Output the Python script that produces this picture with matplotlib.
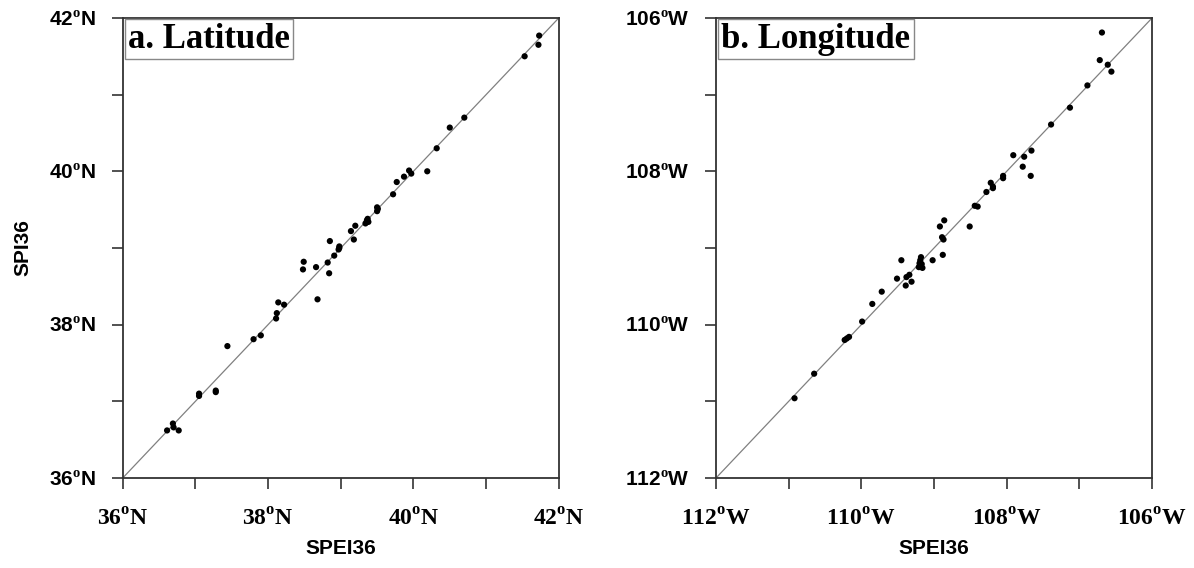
import matplotlib
matplotlib.use("Agg")
import matplotlib.pyplot as plt

plt.rcParams["mathtext.fontset"] = "custom"
plt.rcParams["mathtext.rm"] = "Liberation Serif:bold"
plt.rcParams["mathtext.bf"] = "Liberation Serif:bold"

# latitude panel (SPEI36 vs SPI36, degrees N)
lat_spei = [41.73, 41.72, 41.53, 40.70, 40.50, 40.32, 40.19, 39.94, 39.97, 39.87,
            39.77, 39.72, 39.50, 39.50, 39.51, 39.37, 39.38, 39.34, 39.36, 39.20,
            39.14, 39.18, 38.85, 38.98, 38.98, 38.97, 38.91, 38.82, 38.84, 38.66,
            38.49, 38.48, 38.68, 38.14, 38.22, 38.12, 38.11, 37.90, 37.80, 37.44,
            37.28, 37.28, 37.05, 37.05, 36.69, 36.70, 36.61, 36.77]
lat_spi = [41.77, 41.65, 41.50, 40.70, 40.57, 40.30, 40.00, 40.01, 39.97, 39.93,
           39.86, 39.70, 39.53, 39.48, 39.51, 39.38, 39.34, 39.32, 39.36, 39.29,
           39.22, 39.11, 39.09, 39.02, 39.00, 38.98, 38.90, 38.81, 38.67, 38.75,
           38.82, 38.72, 38.33, 38.29, 38.26, 38.15, 38.08, 37.86, 37.81, 37.72,
           37.14, 37.12, 37.10, 37.07, 36.71, 36.66, 36.62, 36.62]

# longitude panel (degrees, negative = W)
lon_spei = [-106.69, -106.72, -106.61, -106.56, -106.89, -107.13, -107.39, -107.91,
            -107.76, -107.66, -107.78, -107.67, -108.05, -108.05, -108.22, -108.19,
            -108.19, -108.28, -108.44, -108.40, -108.51, -108.92, -108.86, -108.89,
            -108.87, -108.88, -109.02, -109.18, -109.19, -109.20, -109.17, -109.21,
            -109.16, -109.45, -109.34, -109.38, -109.31, -109.39, -109.51, -109.72,
            -109.85, -109.99, -110.17, -110.20, -110.23, -110.65, -110.92]
lon_spi = [-106.19, -106.55, -106.61, -106.70, -106.88, -107.17, -107.39, -107.79,
           -107.81, -107.73, -107.94, -108.06, -108.06, -108.09, -108.15, -108.20,
           -108.22, -108.27, -108.45, -108.46, -108.72, -108.72, -108.64, -108.86,
           -108.89, -109.09, -109.16, -109.12, -109.16, -109.20, -109.21, -109.25,
           -109.26, -109.16, -109.35, -109.38, -109.44, -109.49, -109.40, -109.57,
           -109.73, -109.96, -110.16, -110.18, -110.20, -110.64, -110.96]

lat_ticks = [36, 38, 40, 42]
lat_labels = [r"36$^{\rm o}$N", r"38$^{\rm o}$N", r"40$^{\rm o}$N", r"42$^{\rm o}$N"]
lon_ticks = [-112, -110, -108, -106]
lon_labels = [r"112$^{\rm o}$W", r"110$^{\rm o}$W", r"108$^{\rm o}$W", r"106$^{\rm o}$W"]

fig = plt.figure(figsize=(11.94, 5.68), dpi=100)
ax1 = fig.add_axes([0.1028, 0.1585, 0.3652, 0.8099])
ax2 = fig.add_axes([0.5997, 0.1585, 0.3652, 0.8099])

panels = [
    (ax1, lat_spei, lat_spi, (36, 42), lat_ticks, lat_labels, "a. Latitude"),
    (ax2, lon_spei, lon_spi, (-112, -106), lon_ticks, lon_labels, "b. Longitude"),
]

for ax, xs, ys, lim, ticks, labels, title in panels:
    ax.plot(lim, lim, color="#808080", lw=0.9, zorder=1)
    ax.scatter(xs, ys, s=20, color="black", edgecolors="none", zorder=3)
    ax.set_xlim(lim)
    ax.set_ylim(lim)
    minor = [t + 1 for t in ticks[:-1]]
    ax.set_xticks(ticks)
    ax.set_xticks(minor, minor=True)
    ax.set_yticks(ticks)
    ax.set_yticks(minor, minor=True)
    ax.set_xticklabels(labels, family="Liberation Serif", fontweight="bold", fontsize=17)
    ax.set_yticklabels(labels, family="Liberation Sans", fontweight="bold", fontsize=15)
    ax.tick_params(which="both", direction="out", length=8, width=1.2, color="#333333")
    ax.tick_params(axis="x", which="major", pad=14)
    ax.tick_params(axis="y", which="major", pad=11)
    for sp in ax.spines.values():
        sp.set_linewidth(1.3)
        sp.set_color("#333333")
    ax.text(0.012, 0.99, title, transform=ax.transAxes, ha="left", va="top",
            family="Liberation Serif", fontweight="bold", fontsize=25,
            bbox=dict(boxstyle="square,pad=0.1", facecolor="white",
                      edgecolor="#888888", lw=1.0), zorder=5)
    ax.set_xlabel("SPEI36", family="Liberation Sans", fontweight="bold", fontsize=15, labelpad=6)

ax1.set_ylabel("SPI36", family="Liberation Sans", fontweight="bold", fontsize=15, labelpad=12)

fig.savefig("out.png", dpi=100)
